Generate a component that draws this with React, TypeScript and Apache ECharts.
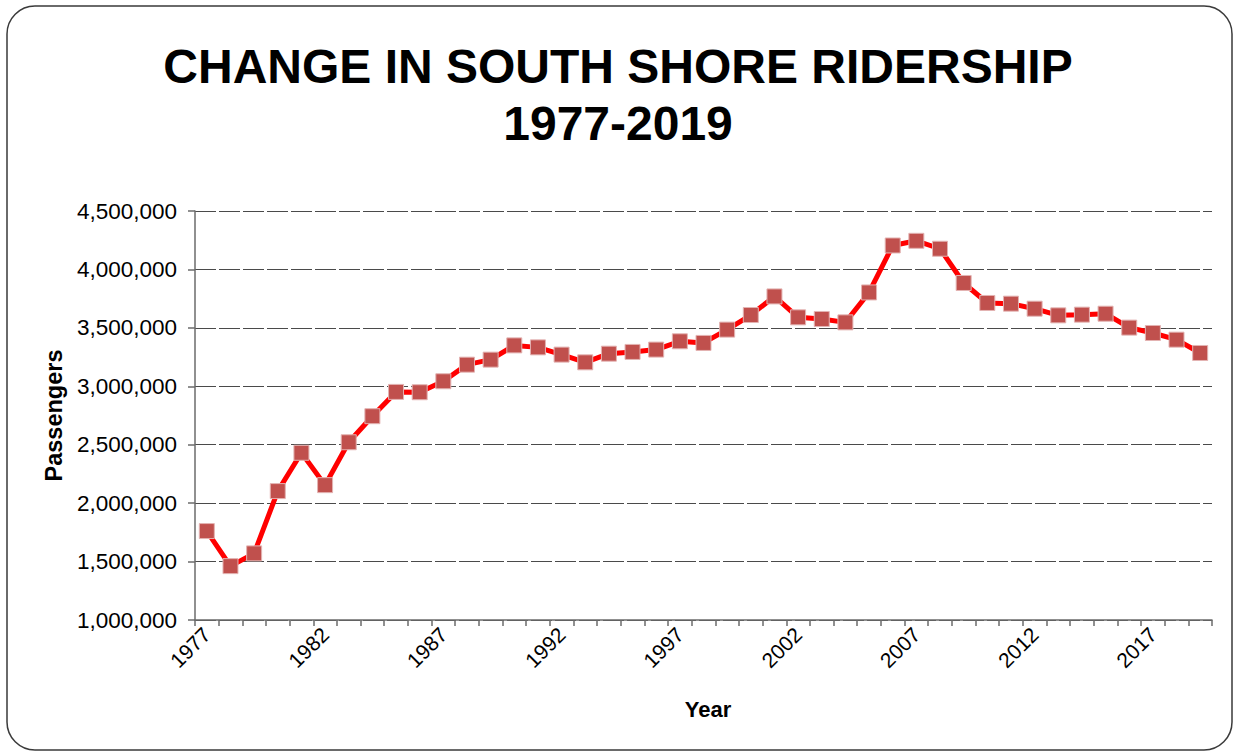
import React, { useEffect, useRef } from "react";
import * as echarts from "echarts";

const years = [
  "1977", "1978", "1979", "1980", "1981", "1982", "1983", "1984", "1985", "1986",
  "1987", "1988", "1989", "1990", "1991", "1992", "1993", "1994", "1995", "1996",
  "1997", "1998", "1999", "2000", "2001", "2002", "2003", "2004", "2005", "2006",
  "2007", "2008", "2009", "2010", "2011", "2012", "2013", "2014", "2015", "2016",
  "2017", "2018", "2019",
];

const passengers = [
  1761000, 1461000, 1570000, 2103000, 2431000, 2154000, 2521000, 2744000, 2952000, 2949000,
  3043000, 3185000, 3228000, 3350000, 3333000, 3271000, 3205000, 3279000, 3294000, 3314000,
  3385000, 3371000, 3485000, 3610000, 3769000, 3590000, 3576000, 3547000, 3803000, 4205000,
  4245000, 4177000, 3884000, 3713000, 3707000, 3664000, 3607000, 3613000, 3621000, 3502000,
  3456000, 3399000, 3285000,
];

const titleLines = ["CHANGE IN SOUTH SHORE RIDERSHIP", "1977-2019"];
const yMin = 1000000;
const yMax = 4500000;
const yStep = 500000;

const FONT = "'Liberation Sans', Arial, Helvetica, sans-serif";

export default function App() {
  const ref = useRef<HTMLDivElement>(null);

  useEffect(() => {
    if (!ref.current) return;
    const chart = echarts.init(ref.current, undefined, { renderer: "svg" });
    chart.setOption({
      animation: false,
      backgroundColor: "#ffffff",
      textStyle: { fontFamily: FONT },
      graphic: [
        {
          type: "rect",
          silent: true,
          shape: { x: 7, y: 6, width: 1225, height: 744, r: 28 },
          style: { fill: "none", stroke: "#3a3a3a", lineWidth: 1.5 },
          z: -1,
        },
        {
          type: "text",
          silent: true,
          x: 618,
          y: 66,
          style: {
            text: titleLines[0],
            fontFamily: FONT,
            fontSize: 48,
            fontWeight: "bold",
            fill: "#000",
            align: "center",
            verticalAlign: "middle",
          },
        },
        {
          type: "text",
          silent: true,
          x: 618,
          y: 123,
          style: {
            text: titleLines[1],
            fontFamily: FONT,
            fontSize: 48,
            fontWeight: "bold",
            fill: "#000",
            align: "center",
            verticalAlign: "middle",
          },
        },
      ],
      grid: { left: 195, right: 22, top: 211, bottom: 131, containLabel: false },
      xAxis: {
        type: "category",
        data: years,
        boundaryGap: true,
        name: "Year",
        nameLocation: "middle",
        nameGap: 78,
        nameTextStyle: {
          fontFamily: FONT,
          fontSize: 22,
          fontWeight: "bold",
          color: "#000",
          padding: [0, 0, 0, 9],
        },
        axisLine: { show: true, lineStyle: { color: "#6b6b6b", width: 1.5 } },
        axisTick: {
          show: true,
          interval: 0,
          alignWithLabel: false,
          length: 6,
          lineStyle: { color: "#6b6b6b", width: 1.5 },
        },
        axisLabel: {
          interval: 4,
          rotate: 45,
          margin: 11,
          fontFamily: FONT,
          fontSize: 21,
          color: "#000",
        },
        splitLine: { show: false },
      },
      yAxis: {
        type: "value",
        min: yMin,
        max: yMax,
        interval: yStep,
        name: "Passengers",
        nameLocation: "middle",
        nameGap: 128,
        nameTextStyle: {
          fontFamily: FONT,
          fontSize: 23.5,
          fontWeight: "bold",
          color: "#000",
        },
        axisLine: { show: true, lineStyle: { color: "#6b6b6b", width: 1.5 } },
        axisTick: { show: true, length: 7, lineStyle: { color: "#6b6b6b", width: 1.5 } },
        axisLabel: {
          margin: 18,
          fontFamily: FONT,
          fontSize: 22.5,
          color: "#000",
          formatter: (v: number) => v.toLocaleString("en-US"),
        },
        splitLine: {
          show: true,
          lineStyle: { color: "#4a4a4a", width: 1.2, type: [21, 3] },
        },
      },
      series: [
        {
          type: "line",
          data: passengers,
          symbol: "rect",
          symbolSize: 15,
          lineStyle: { color: "#ff0000", width: 5 },
          itemStyle: {
            color: "#c0504d",
            borderColor: "#e3b3b2",
            borderWidth: 1,
          },
          z: 3,
        },
      ],
    });
    return () => chart.dispose();
  }, []);

  return (
    <div
      ref={ref}
      style={{ position: "absolute", left: 0, top: 0, width: 1234, height: 751 }}
    />
  );
}
